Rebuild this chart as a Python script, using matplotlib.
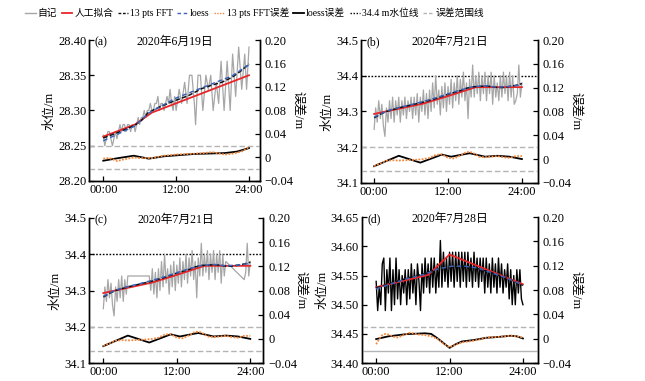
import numpy as np
import matplotlib
matplotlib.use("Agg")
import matplotlib.pyplot as plt
from matplotlib.lines import Line2D

plt.rcParams['font.family'] = ['Liberation Serif', 'Noto Sans CJK SC', 'DejaVu Sans']
plt.rcParams['axes.unicode_minus'] = True

# ---------------- data ----------------
# (a) 2020-06-19 raw record
a_raw_t = [0.0, 0.25, 0.5, 0.75, 1.0, 1.25, 1.5, 1.75, 2.0, 2.25, 2.5, 2.75, 3.0, 3.25, 3.5, 3.75,
           4.0, 4.25, 4.5, 4.75, 5.0, 5.25, 5.5, 5.75, 6.0, 6.25, 6.5, 6.75, 7.0, 7.25, 7.5, 7.75,
           8.0, 8.25, 8.5, 8.75, 9.0, 9.25, 9.5, 9.75, 10.0, 10.25, 10.5, 10.75, 11.0, 11.25, 11.5, 11.75,
           12.0, 12.5, 12.9, 13.4, 13.8, 14.2, 14.6, 15.0, 15.2, 15.6, 16.0, 16.4, 16.9, 17.3, 17.7, 18.1,
           18.6, 19.0, 19.4, 19.9, 20.4, 20.9, 21.3, 21.8, 22.3, 22.8, 23.3, 23.6, 24.0]
a_raw_v = [28.265, 28.25, 28.26, 28.27, 28.27, 28.26, 28.25, 28.26, 28.27, 28.26, 28.27, 28.28, 28.27, 28.28, 28.28, 28.27,
           28.28, 28.28, 28.27, 28.28, 28.28, 28.27, 28.28, 28.29, 28.28, 28.29, 28.29, 28.30, 28.29, 28.30, 28.30, 28.31,
           28.30, 28.30, 28.31, 28.31, 28.32, 28.30, 28.31, 28.31, 28.30, 28.31, 28.32, 28.31, 28.33, 28.31, 28.30, 28.32,
           28.30, 28.33, 28.31, 28.34, 28.31, 28.35, 28.35, 28.31, 28.28, 28.35, 28.35, 28.30, 28.35, 28.33, 28.35, 28.30,
           28.34, 28.31, 28.37, 28.30, 28.37, 28.30, 28.38, 28.32, 28.39, 28.33, 28.38, 28.33, 28.39]
a_fit_t = [0, 5.2, 8, 24]
a_fit_v = [28.263, 28.280, 28.297, 28.350]
a_fft_t = [0, 2.5, 5.2, 6.3, 7.4, 9, 11.8, 14, 16.2, 17.9, 19.5, 21.2, 22.8, 24]
a_fft_v = [28.261, 28.269, 28.279, 28.286, 28.297, 28.304, 28.314, 28.321, 28.331, 28.336, 28.340, 28.347, 28.357, 28.366]
a_loess_t = [0, 2.5, 5.2, 7.4, 11.8, 16.2, 21.2, 24]
a_loess_v = [28.257, 28.267, 28.278, 28.296, 28.317, 28.332, 28.349, 28.365]
a_err_loess_t = [0, 2.5, 5, 7.5, 10, 15, 20, 22, 24]
a_err_loess_v = [-0.0055, -0.001, 0.003, -0.002, 0.002, 0.006, 0.0075, 0.010, 0.016]
a_err_fft_t = [0, 1, 2.3, 3.5, 5, 6, 8, 10, 12, 14, 16, 18, 19, 20, 21, 22, 23, 24]
a_err_fft_v = [-0.002, -0.001, -0.006, -0.003, 0.0, -0.001, -0.001, 0.003, 0.005, 0.006, 0.007, 0.009, 0.007, 0.005, 0.006, 0.008, 0.011, 0.018]

# (b)/(c) 2020-07-21 raw record (15 min)
b_raw_v = [34.25, 34.31, 34.27, 34.33, 34.28, 34.32, 34.26, 34.23, 34.31, 34.27, 34.33, 34.28, 34.34, 34.27, 34.33, 34.29,
           34.34, 34.27, 34.33, 34.29, 34.34, 34.28, 34.33, 34.30, 34.34, 34.28, 34.34, 34.29, 34.35, 34.27, 34.34, 34.30,
           34.36, 34.29, 34.35, 34.28, 34.36, 34.30, 34.38, 34.31, 34.40, 34.32, 34.36, 34.29, 34.37, 34.31, 34.38, 34.30,
           34.37, 34.32, 34.39, 34.31, 34.38, 34.33, 34.40, 34.32, 34.39, 34.34, 34.41, 34.33, 34.38, 34.28, 34.39, 34.34,
           34.43, 34.34, 34.40, 34.35, 34.41, 34.33, 34.40, 34.35, 34.41, 34.33, 34.40, 34.35, 34.41, 34.32, 34.40, 34.34,
           34.38, 34.33, 34.40, 34.34, 34.41, 34.35, 34.40, 34.33, 34.41, 34.34, 34.40, 34.32, 34.33, 34.35, 34.43, 34.34,
           34.38]
b_raw_t = [i * 0.25 for i in range(len(b_raw_v))]
b_fit_t = [0, 8, 12, 16.5, 24]
b_fit_v = [34.293, 34.322, 34.343, 34.368, 34.368]
b_fft_t = [0, 1, 2, 4, 6, 8, 10, 12, 14, 15, 16, 17, 18, 19, 20, 21, 22, 23, 24]
b_fft_v = [34.282, 34.292, 34.300, 34.310, 34.318, 34.326, 34.336, 34.348, 34.358, 34.365, 34.369, 34.370,
           34.371, 34.370, 34.367, 34.367, 34.370, 34.373, 34.378]
b_loess_t = [0, 2, 4, 6, 8, 10, 12, 14, 16, 18, 20, 22, 24]
b_loess_v = [34.284, 34.301, 34.311, 34.319, 34.328, 34.338, 34.349, 34.360, 34.369, 34.372, 34.368, 34.370, 34.375]
b_err_loess_t = [0, 4, 7.5, 11, 12.5, 15.5, 18, 20, 22, 24]
b_err_loess_v = [-0.012, 0.0055, -0.006, 0.0075, 0.004, 0.0098, 0.004, 0.0055, 0.004, 0.0]
b_err_fft_t = list(range(25))
b_err_fft_v = [-0.012, -0.007, -0.003, -0.002, -0.0025, -0.002, -0.0015, -0.001, 0.0, 0.002, 0.007, 0.008, 0.002,
               0.001, 0.006, 0.012, 0.011, 0.004, 0.003, 0.004, 0.005, 0.003, 0.002, 0.005, 0.005]
# (c) uses the same day with missing records
c_gaps = [(4.0, 7.5), (20.0, 23.0)]

# (d) 2020-07-28 raw record (15 min)
d_raw_v = [34.54, 34.49, 34.53, 34.50, 34.57, 34.58, 34.49, 34.56, 34.52, 34.58, 34.49, 34.56, 34.50, 34.58, 34.51, 34.56,
           34.50, 34.55, 34.52, 34.56, 34.50, 34.56, 34.51, 34.57, 34.52, 34.56, 34.50, 34.57, 34.54, 34.49, 34.57, 34.52,
           34.58, 34.53, 34.57, 34.52, 34.58, 34.53, 34.58, 34.52, 34.57, 34.53, 34.61, 34.53, 34.59, 34.54, 34.58, 34.53,
           34.59, 34.54, 34.59, 34.53, 34.59, 34.54, 34.59, 34.53, 34.59, 34.54, 34.59, 34.53, 34.59, 34.54, 34.58, 34.53,
           34.59, 34.54, 34.58, 34.53, 34.58, 34.54, 34.58, 34.52, 34.58, 34.53, 34.57, 34.52, 34.58, 34.53, 34.57, 34.52,
           34.58, 34.53, 34.57, 34.52, 34.56, 34.53, 34.57, 34.51, 34.56, 34.50, 34.55, 34.50, 34.56, 34.52, 34.56, 34.51,
           34.50]
d_raw_t = [i * 0.25 for i in range(len(d_raw_v))]
d_fit_t = [0, 8.5, 12, 24]
d_fit_v = [34.530, 34.551, 34.586, 34.535]
d_fft_t = [0, 2.5, 5.2, 7.9, 10, 12.3, 14.5, 16.6, 18.8, 21, 24]
d_fft_v = [34.529, 34.537, 34.546, 34.553, 34.561, 34.565, 34.566, 34.562, 34.555, 34.547, 34.533]
d_loess_t = [0, 2.5, 5.2, 7.9, 10, 12.3, 14.5, 16.6, 18.8, 21, 24]
d_loess_v = [34.527, 34.536, 34.545, 34.552, 34.561, 34.566, 34.566, 34.563, 34.555, 34.547, 34.534]
d_err_loess_t = [0, 2, 5, 8, 9, 10, 11, 12, 13, 14, 16, 18, 20, 22, 23, 24]
d_err_loess_v = [-0.0005, 0.004, 0.0077, 0.009, 0.008, 0.001, -0.007, -0.015, -0.009, -0.0045, -0.002, 0.0016,
                 0.003, 0.005, 0.004, 0.0005]
d_err_fft_t = [0, 0.5, 1, 1.5, 2, 3, 3.5, 4, 5, 5.5, 6, 7, 8, 9, 10, 11, 12, 13, 14, 16, 17, 18, 20, 22, 23, 24]
d_err_fft_v = [-0.009, 0.0, 0.006, 0.008, 0.007, 0.003, 0.002, 0.004, 0.008, 0.010, 0.009, 0.007, 0.006, 0.004,
               0.0, -0.008, -0.014, -0.010, -0.006, -0.003, -0.001, 0.002, 0.003, 0.005, 0.004, 0.002]

titles = ['2020年6月19日', '2020年7月21日', '2020年7月21日', '2020年7月28日']
labels = ['(a)', '(b)', '(c)', '(d)']
x_ticks = [0, 12, 24]
x_ticklabels = ['00:00', '12:00', '24:00']
err_ticks = [-0.04, 0, 0.04, 0.08, 0.12, 0.16, 0.20]
err_ticklabels = ['\u22120.04', '0', '0.04', '0.08', '0.12', '0.16', '0.20']
err_limit = 0.02
level_line = 34.4

# ---------------- style ----------------
C_RAW = '#a6a6a6'
C_FIT = '#e8262a'
C_FFT = '#111111'
C_LOESS = '#3a62b8'
C_EFFT = '#f5873a'
C_ELOESS = '#000000'
C_RANGE = '#b4b4b4'
FS = 9

fig = plt.figure(figsize=(6.45, 3.81), dpi=100)

rects = [
    (0.138, 0.525, 0.265, 0.370),
    (0.560, 0.520, 0.274, 0.375),
    (0.138, 0.047, 0.270, 0.381),
    (0.561, 0.047, 0.273, 0.383),
]
xlims = [(-2.35, 25.8), (-2.1, 26.6), (-2.34, 26.1), (-2.34, 26.45)]
ylims = [(28.20, 28.40), (34.1, 34.5), (34.1, 34.5), (34.40, 34.65)]
yticks = [
    ([28.20, 28.25, 28.30, 28.35, 28.40], ['28.20', '28.25', '28.30', '28.35', '28.40']),
    ([34.1, 34.2, 34.3, 34.4, 34.5], ['34.1', '34.2', '34.3', '34.4', '34.5']),
    ([34.1, 34.2, 34.3, 34.4, 34.5], ['34.1', '34.2', '34.3', '34.4', '34.5']),
    ([34.40, 34.45, 34.50, 34.55, 34.60, 34.65], ['34.40', '34.45', '34.50', '34.55', '34.60', '34.65']),
]

# (c) raw = (b) raw without the missing records
c_raw_t = [t for t in b_raw_t if not any(g0 < t < g1 for g0, g1 in c_gaps)]
c_raw_v = [v for t, v in zip(b_raw_t, b_raw_v) if not any(g0 < t < g1 for g0, g1 in c_gaps)]

panels = [
    dict(raw=(a_raw_t, a_raw_v), raw_c=C_RAW, raw_lw=0.9, fit=(a_fit_t, a_fit_v), fft=(a_fft_t, a_fft_v),
         loess=(a_loess_t, a_loess_v), el=(a_err_loess_t, a_err_loess_v), ef=(a_err_fft_t, a_err_fft_v),
         level=False, low_solid=False),
    dict(raw=(b_raw_t, b_raw_v), raw_c=C_RAW, raw_lw=0.9, fit=(b_fit_t, b_fit_v), fft=(b_fft_t, b_fft_v),
         loess=(b_loess_t, b_loess_v), el=(b_err_loess_t, b_err_loess_v), ef=(b_err_fft_t, b_err_fft_v),
         level=True, low_solid=False),
    dict(raw=(c_raw_t, c_raw_v), raw_c=C_RAW, raw_lw=0.9, fit=(b_fit_t, b_fit_v), fft=(b_fft_t, b_fft_v),
         loess=(b_loess_t, b_loess_v), el=(b_err_loess_t, b_err_loess_v), ef=(b_err_fft_t, b_err_fft_v),
         level=True, low_solid=False),
    dict(raw=(d_raw_t, d_raw_v), raw_c='#000000', raw_lw=1.0, fit=(d_fit_t, d_fit_v), fft=(d_fft_t, d_fft_v),
         loess=(d_loess_t, d_loess_v), el=(d_err_loess_t, d_err_loess_v), ef=(d_err_fft_t, d_err_fft_v),
         level=False, low_solid=True),
]

for i, p in enumerate(panels):
    ax = fig.add_axes(rects[i])
    ax2 = ax.twinx()
    ax.plot(*p['raw'], color=p['raw_c'], lw=p['raw_lw'], zorder=2)
    ax.plot(*p['fit'], color=C_FIT, lw=1.3, zorder=3)
    ax.plot(*p['fft'], color=C_FFT, lw=1.1, ls=(0, (3, 1.5)), zorder=4)
    ax.plot(*p['loess'], color=C_LOESS, lw=1.1, ls=(0, (3, 2)), zorder=5)
    if p['level']:
        ax.axhline(level_line, color='black', lw=1.0, ls=(0, (1.2, 1.2)), zorder=1)
    ax2.axhline(err_limit, color=C_RANGE, lw=1.0, ls=(0, (4, 2)))
    if p['low_solid']:
        ax2.axhline(-err_limit, color=C_RANGE, lw=1.0)
    else:
        ax2.axhline(-err_limit, color=C_RANGE, lw=1.0, ls=(0, (4, 2)))
    ax2.plot(*p['el'], color=C_ELOESS, lw=1.3)
    ax2.plot(*p['ef'], color=C_EFFT, lw=1.3, ls=(0, (1, 0.8)))

    ax.set_xlim(*xlims[i])
    ax.set_ylim(*ylims[i])
    ax2.set_ylim(-0.04, 0.20)
    ax.set_xticks(x_ticks)
    ax.set_xticklabels(x_ticklabels, fontsize=FS)
    ax.set_yticks(yticks[i][0])
    ax.set_yticklabels(yticks[i][1], fontsize=FS)
    ax2.set_yticks(err_ticks)
    ax2.set_yticklabels(err_ticklabels, fontsize=FS)
    for a in (ax, ax2):
        a.spines['top'].set_visible(False)
        for s in a.spines.values():
            s.set_linewidth(1.0)
    ax.tick_params(direction='in', length=3.5, width=0.9, pad=2, right=False, top=False)
    ax2.tick_params(direction='in', length=3.5, width=0.9, pad=3.5)
    ax.set_ylabel('水位/m', fontsize=FS, labelpad=2)
    ax2.set_ylabel('误差/m', fontsize=FS, rotation=270, labelpad=7)
    ax.text(0.5, 0.985, titles[i], transform=ax.transAxes, ha='center', va='center', fontsize=FS - 0.5)
    ax.text(0.03, 0.985, labels[i], transform=ax.transAxes, ha='left', va='center', fontsize=FS - 0.5)

handles = [
    Line2D([], [], color=C_RAW, lw=1.0),
    Line2D([], [], color=C_FIT, lw=1.3),
    Line2D([], [], color=C_FFT, lw=1.0, ls=(0, (2, 1.2))),
    Line2D([], [], color=C_LOESS, lw=1.0, ls=(0, (2.5, 2))),
    Line2D([], [], color=C_EFFT, lw=1.0, ls=(0, (1, 1))),
    Line2D([], [], color=C_ELOESS, lw=1.3),
    Line2D([], [], color='black', lw=1.0, ls=(0, (1, 1.2))),
    Line2D([], [], color=C_RANGE, lw=1.0, ls=(0, (2.5, 1.5))),
]
names = ['自记', '人工拟合', '13 pts FFT', 'loess', '13 pts FFT误差', 'loess误差', '34.4 m水位线', '误差范围线']
fig.legend(handles, names, loc='center left', bbox_to_anchor=(25 / 645, 1 - 13 / 381), ncol=8, frameon=False,
           fontsize=7, handlelength=1.1, handletextpad=0.2, columnspacing=0.45, borderaxespad=0, borderpad=0)

fig.savefig('out.png', dpi=100)
